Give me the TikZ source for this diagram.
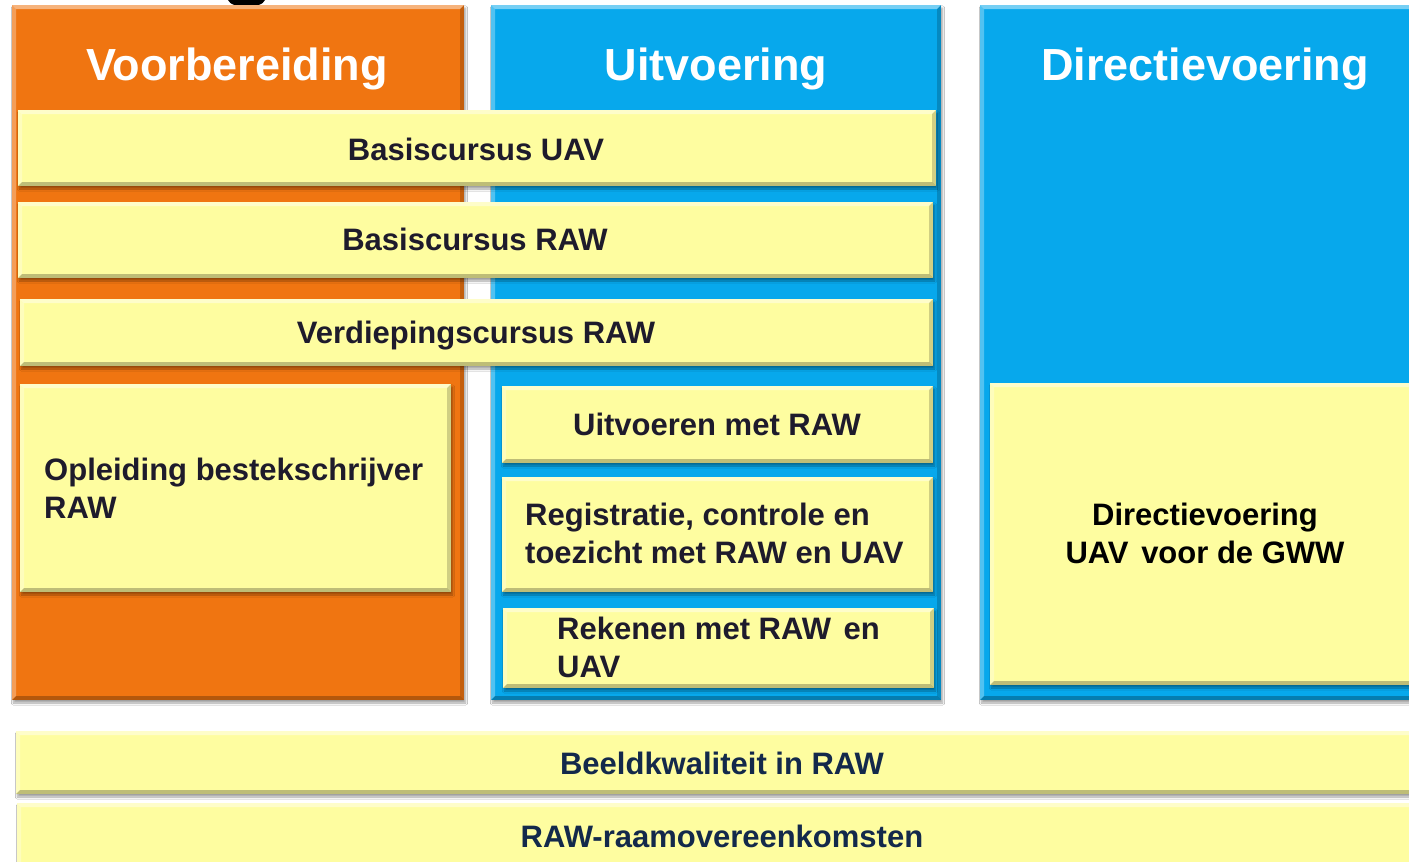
\documentclass[tikz,border=0pt]{standalone}
\usepackage{fontspec}
\setmainfont{Liberation Sans}
\usetikzlibrary{shadows.blur}
\definecolor{vorange}{HTML}{F07511}
\definecolor{vblue}{HTML}{07A8EC}
\definecolor{vyellow}{HTML}{FEFDA0}
\definecolor{vtext}{HTML}{1E1B2C}
\definecolor{vnavy}{HTML}{13294B}
\tikzset{
  bevel/.style={path picture={
    \fill[white,opacity=0.45] (path picture bounding box.north west) -- (path picture bounding box.north east)
      -- ([shift={(-4pt,-4pt)}]path picture bounding box.north east) -- ([shift={(4pt,-4pt)}]path picture bounding box.north west) -- cycle;
    \fill[white,opacity=0.3] (path picture bounding box.north west) -- (path picture bounding box.south west)
      -- ([shift={(4pt,4pt)}]path picture bounding box.south west) -- ([shift={(4pt,-4pt)}]path picture bounding box.north west) -- cycle;
    \fill[black,opacity=0.25] (path picture bounding box.south west) -- (path picture bounding box.south east)
      -- ([shift={(-4pt,4pt)}]path picture bounding box.south east) -- ([shift={(4pt,4pt)}]path picture bounding box.south west) -- cycle;
    \fill[black,opacity=0.18] (path picture bounding box.north east) -- (path picture bounding box.south east)
      -- ([shift={(-4pt,4pt)}]path picture bounding box.south east) -- ([shift={(-4pt,-4pt)}]path picture bounding box.north east) -- cycle;
  }},
  panel/.style={anchor=north west, inner sep=0pt, outer sep=0pt, rectangle,
    blur shadow={shadow xshift=1.5pt, shadow yshift=-3pt, shadow blur steps=6, shadow opacity=35}, bevel},
  colorange/.style={panel, fill=vorange},
  colblue/.style={panel, fill=vblue},
  ybox/.style={panel, fill=vyellow},
  coltitle/.style={anchor=base, text=white, font=\fontsize{45}{54}\selectfont\bfseries, inner sep=0pt},
  ytext/.style={anchor=base, text=vtext, font=\fontsize{31}{38}\selectfont\bfseries, inner sep=0pt},
  ytextl/.style={anchor=base west, text=vtext, font=\fontsize{31}{38}\selectfont\bfseries, inner sep=0pt, align=left},
  btext/.style={anchor=base, text=vnavy, font=\fontsize{31}{38}\selectfont\bfseries, inner sep=0pt},
}
\begin{document}
\begin{tikzpicture}[x=1pt,y=-1pt]
\useasboundingbox (0,0) rectangle (1409,862);
\fill[white] (0,0) rectangle (1409,862);
% fragment of a cropped title glyph at the top edge
\fill[black] (228,0) .. controls (231,9) and (262,9) .. (265,0) -- cycle;

% columns
\node[colorange, minimum width=452pt, minimum height=695pt] (prep) at (12,5) {};
\node[colblue, minimum width=450pt, minimum height=695pt] (exec) at (491,5) {};
\node[colblue, minimum width=450pt, minimum height=695pt] (dir) at (980,5) {};
\node[coltitle] (tprep) at (237,80) {Voorbereiding};
\node[coltitle] (texec) at (716,80) {Uitvoering};
\node[coltitle] (tdir) at (1205,80) {Directievoering};

% wide bars
\node[ybox, minimum width=918pt, minimum height=76pt] (buav) at (18,110) {};
\node[ytext] (tbuav) at (476,160) {Basiscursus UAV};
\node[ybox, minimum width=915pt, minimum height=76pt] (braw) at (18,202) {};
\node[ytext] (tbraw) at (475,250) {Basiscursus RAW};
\node[ybox, minimum width=913pt, minimum height=67pt] (vraw) at (20,299) {};
\node[ytext] (tvraw) at (476,343) {Verdiepingscursus RAW};

% left column (two-line nodes: base = baseline of the last line)
\node[ybox, minimum width=431pt, minimum height=208pt] (obr) at (20,384) {};
\node[ytextl] (tobr) at (44,518) {Opleiding bestekschrijver\\RAW};

% middle column
\node[ybox, minimum width=431pt, minimum height=77pt] (umr) at (502,386) {};
\node[ytext] (tumr) at (717,435) {Uitvoeren met RAW};
\node[ybox, minimum width=431pt, minimum height=115pt] (rct) at (502,477) {};
\node[ytextl] (trct) at (525,563) {Registratie, controle en\\toezicht met RAW en UAV};
\node[ybox, minimum width=431pt, minimum height=80pt] (rek) at (503,608) {};
\node[ytextl] (trek) at (557,677) {Rekenen met RAW\hspace{4pt} en\\UAV};

% right column
\node[ybox, minimum width=440pt, minimum height=302pt] (dvu) at (990,383) {};
\node[ytext, text=black, align=center] (tdvu) at (1205,563) {Directievoering\\UAV\hspace{4pt} voor de GWW};

% bottom bars
\node[ybox, minimum width=1420pt, minimum height=63pt] (bkr) at (16,731) {};
\node[btext] (tbkr) at (722,774) {Beeldkwaliteit in RAW};
\node[ybox, minimum width=1420pt, minimum height=70pt] (rro) at (17,803) {};
\node[btext] (trro) at (722,847) {RAW-raamovereenkomsten};
\end{tikzpicture}
\end{document}
